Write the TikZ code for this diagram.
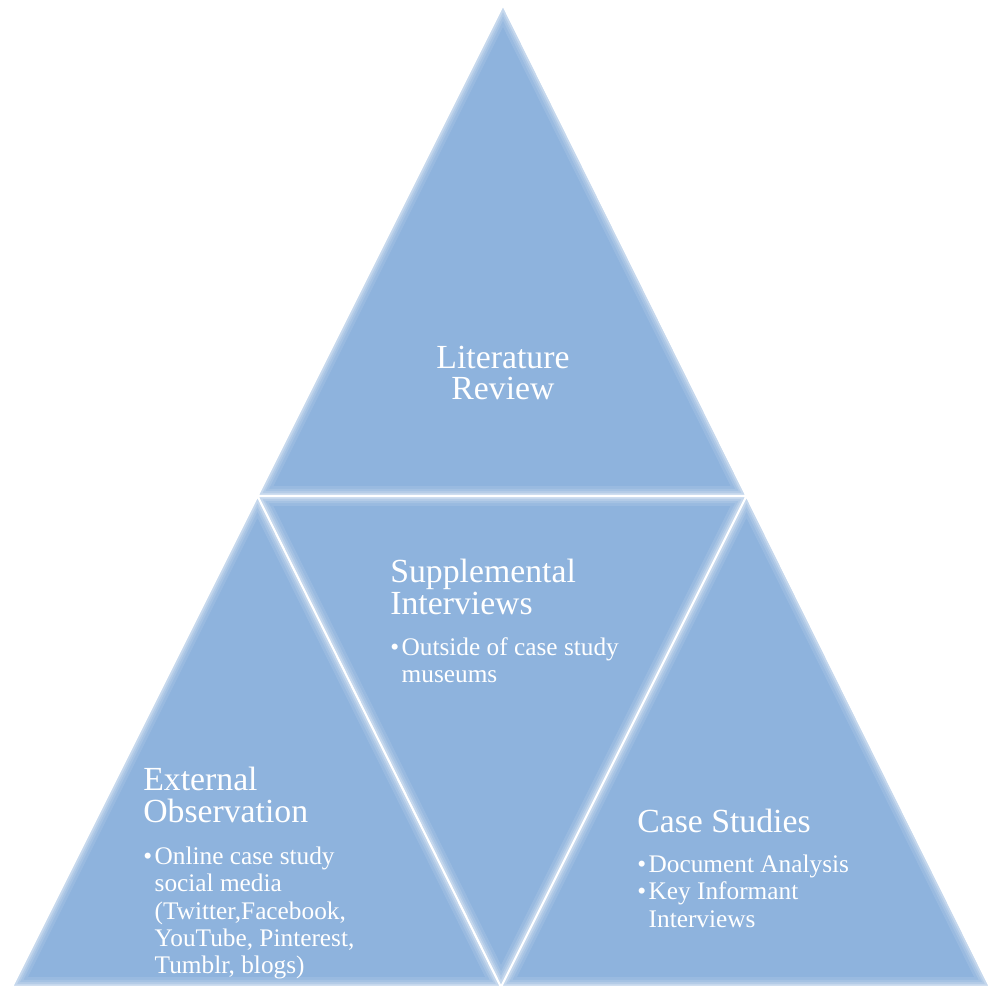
\documentclass[tikz,border=0pt]{standalone}
\usepackage{fontspec}
\setmainfont{Liberation Serif}
\usetikzlibrary{calc,positioning}
\definecolor{segblue}{RGB}{142,179,221}
\tikzset{
		>=stealth,
		seg/.style={fill=segblue},
		head/.style={text=white, font=\fontsize{24}{22.5}\selectfont, align=left, inner sep=0pt},
		bullets/.style={text=white, font=\fontsize{18}{19.3}\selectfont, align=left, inner sep=0pt}
	}
\newcommand{\bul}{\makebox[0.45em][l]{\textbullet}}
\newcommand{\ind}{\hspace*{0.45em}}
% one segment of the pyramid, pulled in a little towards its centre
\newcommand{\segment}[3]{%
  \coordinate (g) at (barycentric cs:#1=1,#2=1,#3=1);
  \coordinate (s1) at ($(g)!0.991!(#1)$);
  \coordinate (s2) at ($(g)!0.991!(#2)$);
  \coordinate (s3) at ($(g)!0.991!(#3)$);
  \fill[seg] (s1) -- (s2) -- (s3) -- cycle;
  \begin{scope}
    \clip (s1) -- (s2) -- (s3) -- cycle;
    \foreach \w/\o in {12pt/0.10,8pt/0.12,5pt/0.16,2.5pt/0.25}
      \draw[white, opacity=\o, line width=\w, line join=miter] (s1) -- (s2) -- (s3) -- cycle;
  \end{scope}
}

\begin{document}
\begin{tikzpicture}[x=0.025cm, y=-0.025cm]
    \useasboundingbox (0,0) rectangle (989,989);

    % corners of the pyramid
    \coordinate (top) at (503,5);
    \coordinate (bl) at (12,987);
    \coordinate (br) at (990,987);
    \coordinate (ml) at ($(top)!0.5!(bl)$);
    \coordinate (mr) at ($(top)!0.5!(br)$);
    \coordinate (mb) at ($(bl)!0.5!(br)$);

    % the four segments
    \segment{top}{ml}{mr}
    \segment{ml}{bl}{mb}
    \segment{mr}{mb}{br}
    \segment{ml}{mr}{mb}

    % the texts
    \node[head, align=center] (lit) at (503,373) {Literature\\Review};

    \node[head, anchor=north west] (supp) at (390,559) {Supplemental\\Interviews};
    \node[bullets, anchor=north west] (suppb) at (390,637) {\bul Outside of case study\\\ind museums};

    \node[head, anchor=north west] (ext) at (143,767) {External\\Observation};
    \node[bullets, anchor=north west] (extb) at (143,847) {\bul Online case study\\\ind social media\\\ind (Twitter,Facebook,\\\ind YouTube, Pinterest,\\\ind Tumblr, blogs)};

    \node[head, anchor=north west] (case) at (637,809) {Case Studies};
    \node[bullets, anchor=north west] (caseb) at (637,855) {\bul Document Analysis\\\bul Key Informant\\\ind Interviews};

\end{tikzpicture}
\end{document}
